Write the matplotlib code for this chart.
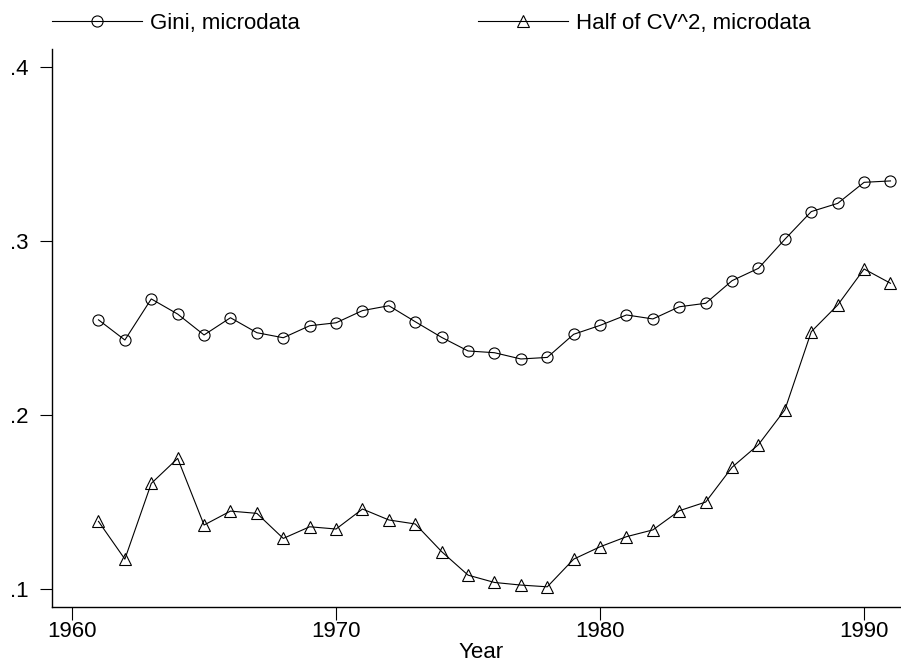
import matplotlib
matplotlib.use('Agg')
import matplotlib.pyplot as plt
from matplotlib.ticker import FuncFormatter

plt.rcParams['font.family'] = ['Liberation Sans', 'DejaVu Sans']

# 연도
years = list(range(1961, 1992))

# Gini, microdata
gini = [0.2547, 0.2431, 0.2667, 0.2580, 0.2460, 0.2559, 0.2473, 0.2444, 0.2513, 0.2530,
        0.2600, 0.2628, 0.2536, 0.2446, 0.2368, 0.2358, 0.2322, 0.2331, 0.2464, 0.2515,
        0.2575, 0.2552, 0.2622, 0.2642, 0.2772, 0.2843, 0.3010, 0.3169, 0.3216, 0.3337,
        0.3345]

# Half of CV^2, microdata
half_cv2 = [0.1389, 0.1172, 0.1607, 0.1751, 0.1368, 0.1448, 0.1435, 0.1291, 0.1358, 0.1345,
            0.1460, 0.1397, 0.1374, 0.1215, 0.1080, 0.1038, 0.1023, 0.1013, 0.1172, 0.1243,
            0.1301, 0.1340, 0.1450, 0.1500, 0.1700, 0.1830, 0.2030, 0.2479, 0.2632, 0.2839,
            0.2757]

labels = ['Gini, microdata', 'Half of CV^2, microdata']
x_ticks = [1960, 1970, 1980, 1990]
y_ticks = [0.1, 0.2, 0.3, 0.4]

W, H = 901, 664
fig = plt.figure(figsize=(W / 100, H / 100), dpi=100)
ax = fig.add_axes([52 / W, 1 - 607 / H, 848 / W, 558 / H])

ax.plot(years, gini, color='black', lw=0.8, marker='o', ms=8,
        mfc='none', mec='black', mew=0.8, label=labels[0])
ax.plot(years, half_cv2, color='black', lw=0.8, marker='^', ms=8,
        mfc='none', mec='black', mew=0.8, label=labels[1])

ax.set_xlim(1959.24, 1991.36)
ax.set_ylim(0.0897, 0.4103)
ax.set_xticks(x_ticks)
ax.set_yticks(y_ticks)
ax.yaxis.set_major_formatter(FuncFormatter(lambda v, p: ('%.1f' % v).lstrip('0')))

for s in ['top', 'right']:
    ax.spines[s].set_visible(False)
for s in ['left', 'bottom']:
    ax.spines[s].set_linewidth(1.0)
    ax.spines[s].set_color('black')

ax.tick_params(axis='both', direction='out', length=9, width=0.8, labelsize=16, color='black')
ax.tick_params(axis='y', pad=8)
ax.tick_params(axis='x', pad=1)

ax.set_xlabel('Year', fontsize=16, va='center')
ax.xaxis.set_label_coords((481 - 52) / 848, -(652 - 607) / 558)

fig.legend(loc='center left', bbox_to_anchor=(52 / W, 1 - 23 / H), ncol=2,
           frameon=False, fontsize=16, handlelength=4.05, handletextpad=0.36,
           borderpad=0, borderaxespad=0, columnspacing=8.0, numpoints=1)

fig.savefig('out.png', dpi=100)
